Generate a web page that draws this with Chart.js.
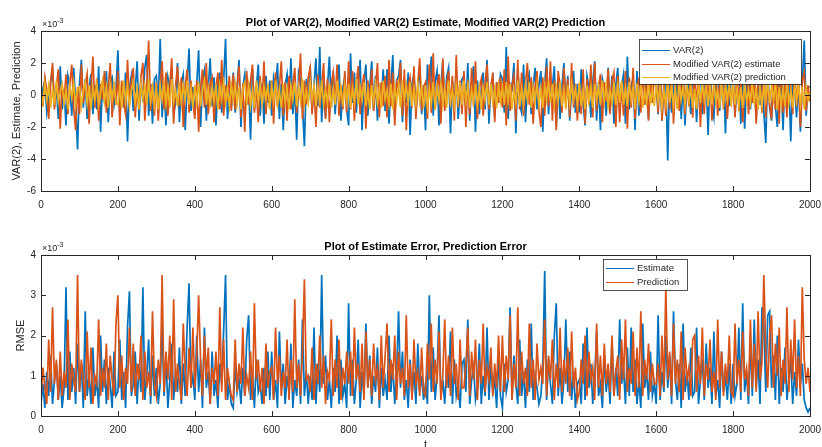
<!DOCTYPE html>
<html>
<head>
<meta charset="utf-8">
<script src="https://cdn.jsdelivr.net/npm/chart.js@4.4.0/dist/chart.umd.min.js"></script>
<style>
  html, body { margin: 0; padding: 0; background: #fff; overflow: hidden; }
  #wrap { position: relative; width: 822px; height: 447px; }
  canvas { position: absolute; left: 0; }
  #top { top: 0; }
  #bottom { top: 222px; }
</style>
</head>
<body>
<div id="wrap">
  <canvas id="top" width="822" height="222"></canvas>
  <canvas id="bottom" width="822" height="230"></canvas>
</div>
<script>
// sample index t, every 5th step of the 2000-step run
const t = Array.from({ length: 401 }, (_, i) => i * 5);

// values are in units of 1e-3 (axes carry the x10^-3 factor)
const varTrue = [
  -0.6, 0.4, 0.9, -1.1, -0.3, 0.8, 1.6, -0.7, 0.5, -1.5, 1.8, -0.9, 0.3, -1.9, 1.2, 0.6, -1.3, 1.7, -0.4, -3.4,
  0.7, 2.2, -0.8, 1.0, -1.5, 0.4, 1.3, -1.2, 0.6, -0.9, 1.8, -2.3, 0.9, -0.5, 1.5, -1.7, 0.8, 1.1, -0.6, 0.3,
  2.8, -1.1, 0.6, -0.8, 1.4, -2.9, 0.5, 1.2, -1.0, 0.3, 2.1, -1.6, 0.9, -0.4, 1.7, 2.5, -1.3, 0.7, -1.8, 1.0,
  1.2, -0.6, 3.5, -1.4, 0.6, -1.9, 1.1, 0.4, 1.7, -1.2, -0.5, 2.0, -1.7, 0.8, 1.3, -2.2, 0.6, 2.9, -1.0, 0.5,
  -1.2, 0.7, 2.8, -2.0, 0.8, 1.5, -1.6, 0.4, 2.3, -0.7, 1.1, -1.9, 0.6, 1.4, -1.1, 0.9, 3.5, -1.5, 0.3, -0.8,
  1.4, -1.1, 0.5, 2.2, -2.0, 0.5, 1.3, -0.6, 0.8, -2.8, 1.6, -0.9, 0.4, 1.9, -1.3, 0.7, -1.8, 1.2, -0.5, 0.9,
  -1.3, 1.1, 0.4, 2.0, -1.5, 0.7, -2.2, 0.6, 1.3, -0.8, 2.3, -1.2, 0.5, -2.8, 1.4, 0.9, -0.6, -3.2, 1.0, -0.4,
  1.8, -1.0, 0.6, 2.3, -0.7, 3.0, -1.7, 0.9, -1.4, 0.5, 2.4, -0.8, 1.5, -1.2, 0.7, 1.9, -1.6, 0.4, 1.1, -0.9,
  -1.9, 2.6, -0.5, 1.4, -1.1, 0.6, 2.2, -2.2, 0.8, 1.9, -1.3, 0.5, 2.1, -0.9, 1.2, -1.6, 0.7, -0.4, 1.6, -1.0,
  1.6, -1.8, 0.6, 2.5, -1.4, 0.9, 1.2, 2.2, -1.7, 0.8, -0.5, 1.4, -2.5, 0.7, 1.3, -1.0, 0.4, 1.8, -1.2, 0.6,
  -2.2, 1.9, 0.5, 2.4, -1.3, 0.8, 1.5, -1.9, 0.6, 2.1, -0.7, 1.1, 1.7, -2.4, 0.9, -0.6, 1.4, -1.5, 0.3, 1.0,
  1.2, -0.8, 2.0, -1.6, 0.7, 1.8, -2.3, 0.9, -1.2, 0.4, 1.4, -0.9, 2.2, -1.8, 0.6, 1.1, -1.4, 0.8, -0.5, 1.3,
  1.0, -1.1, 3.0, -1.5, 0.7, 0.4, 2.0, -2.4, 1.6, -0.6, -1.1, 1.9, -1.7, 0.8, 1.3, -1.2, 0.5, 1.7, -0.9, 0.6,
  1.5, -2.3, 0.7, 2.3, -1.2, 1.1, 0.5, 1.8, -2.0, 0.9, -1.5, 0.6, 2.0, -0.8, 1.2, -1.6, 0.4, 1.5, -1.1, 0.7,
  -1.1, 1.6, -0.5, -1.9, 1.2, 0.5, -1.4, 0.8, 2.1, -1.6, 0.8, -2.2, 1.0, 0.4, -1.3, 1.7, -0.7, 1.2, -1.8, 0.6,
  1.7, -1.0, 0.6, 1.3, -1.8, 2.4, -0.9, 0.5, 1.1, -2.2, 1.5, -1.3, 0.7, 1.9, -0.6, 1.2, -1.5, 0.8, -0.4, 1.4,
  0.9, -1.2, 2.2, -1.6, 0.6, 1.0, -4.1, 1.4, -1.1, 0.5, 1.7, -0.8, 2.3, -1.5, 0.7, -1.9, 1.1, 0.4, -1.2, 1.6,
  1.2, -1.7, 0.6, 1.9, -1.2, 0.8, 1.0, -2.5, 1.5, -0.6, -1.4, 0.8, 1.3, -1.0, 0.5, 1.8, -2.4, 0.9, -0.7, 1.1,
  1.6, -1.3, 0.5, 2.0, -1.8, 1.1, -2.1, 0.7, 1.4, -0.9, 0.6, 1.2, -1.5, 0.9, -0.6, 1.3, -1.1, -3.0, 1.7, -0.8,
  -1.6, 1.3, -0.7, -2.0, 1.0, 0.7, -2.2, 1.5, -0.5, 0.9, -2.9, 1.2, 0.6, -1.4, 1.0, -2.3, 0.8, 3.4, -1.3, 0.5,
  0.5
];

const varEstimate = [
  0.4, -0.7, 1.1, 0.3, -1.5, 0.8, 2.0, -0.9, 0.5, 1.6, -2.1, 0.6, -0.4, 1.3, -1.2, 0.7, 1.9, -0.8, -2.2, 0.5,
  -1.2, 1.9, -0.5, 0.6, 1.3, -1.8, 0.4, 2.4, -0.8, 1.0, -1.6, 0.7, -0.3, 1.5, -1.1, 0.5, 2.0, -1.4, 0.8, -0.6,
  1.5, -1.9, 0.9, -0.5, -1.2, 2.2, -0.6, 0.8, 1.7, -1.4, 0.5, -0.9, 1.2, 2.0, -1.6, 0.4, 3.4, -1.0, 0.7, -1.3,
  0.8, -1.6, 0.5, 2.1, -0.9, 1.4, -1.3, 0.6, 2.3, -1.8, 0.6, 1.8, -0.7, 1.1, -2.0, 0.5, 1.6, -1.1, 0.9, -0.5,
  -1.5, 0.9, -2.3, 0.4, 1.6, -0.8, 2.0, -1.2, 0.7, 1.1, -1.7, 0.5, 1.4, -0.9, 2.2, -1.3, 0.6, -0.4, 1.2, -1.0,
  1.3, -0.9, 0.5, 1.8, -1.4, 0.7, -2.3, 1.5, -0.6, 0.9, 1.9, -1.1, 0.4, -1.7, 1.2, -0.5, 2.1, -1.2, 0.6, -0.8,
  0.9, -1.8, 1.4, -0.7, 0.5, 2.1, -1.3, 0.8, -1.6, 1.2, -0.9, 0.6, 1.7, -1.1, 0.4, 2.6, -1.5, 0.9, -0.6, 1.1,
  1.7, -1.2, 0.6, -2.0, 1.3, -0.8, 0.5, 2.0, -1.5, 1.0, -1.7, 0.7, 1.4, -0.5, 1.9, -1.3, 0.6, -0.9, 1.5, -1.1,
  2.1, -0.9, 1.5, -1.6, 0.7, 1.8, -1.2, 0.5, 1.3, -2.1, 0.9, -0.6, 1.6, -1.0, 0.4, 2.0, -1.4, 0.8, -0.7, 1.2,
  -1.4, 2.2, -0.7, 1.4, -1.9, 0.8, 0.4, 2.0, -1.3, 1.6, -2.2, 0.6, 1.1, -0.8, 1.8, -1.5, 0.7, 2.3, -1.0, 0.5,
  0.8, -1.5, 1.9, -1.1, 2.6, -0.9, 0.5, 1.3, -1.8, 2.3, -1.0, 0.6, 1.5, -0.7, 1.2, -1.6, 2.5, -0.8, 0.9, -1.2,
  1.5, -2.0, 0.9, -1.2, 1.7, -0.7, 2.1, -1.5, 0.5, 1.0, -1.3, 0.7, 1.9, -0.9, 0.4, 1.4, -1.7, 0.8, -0.5, 1.1,
  -0.8, 1.6, -1.9, 2.4, -1.0, 0.6, 1.2, -1.6, 2.2, -0.9, 1.4, -1.3, 0.7, 2.0, -0.6, 1.1, -1.8, 0.5, 1.5, -1.0,
  -2.0, 1.1, -1.3, 1.8, -0.7, 2.1, -1.6, 0.9, -2.2, 1.5, 0.6, -1.1, 1.7, -0.5, 1.0, -1.4, 2.0, -0.8, 0.7, -1.6,
  0.7, -1.2, 1.6, -1.8, 1.0, -0.6, 1.9, -1.4, 2.0, -1.0, 0.5, 1.3, -1.7, 0.8, -0.4, 1.6, -1.2, 0.9, 1.4, -2.0,
  1.2, -1.7, 0.8, -1.3, 1.5, -2.1, 1.1, -0.8, 1.7, -1.5, 0.6, 1.0, -1.1, 1.8, -0.6, 0.9, -1.6, 1.3, -0.5, 1.2,
  0.9, -1.1, 2.0, -1.6, 0.7, -1.3, 1.5, -0.9, 1.2, -1.8, 0.6, 1.4, -1.0, 0.5, 1.9, -1.2, 0.8, -0.7, 1.6, -1.4,
  1.6, -0.8, 1.3, -2.0, 0.9, -1.2, 1.8, -0.7, 1.4, -1.6, 0.5, 1.1, -1.3, 0.7, 2.1, -0.9, 1.0, -1.5, 0.6, -0.4,
  0.8, -1.4, 1.9, -1.0, 1.3, -1.7, 0.6, 2.1, -1.2, 0.9, -0.5, 1.5, -1.8, 0.7, 1.2, -1.1, 2.0, -1.4, 0.8, -0.6,
  -1.5, 1.7, -0.9, 1.2, -1.8, 2.3, -1.1, 0.8, -1.4, 1.9, 0.5, -1.2, 1.6, -0.7, 1.1, -2.0, 0.9, 1.4, -1.0, 0.6,
  -0.4
];

const varPrediction = [
  0.1, -0.5, 0.7, -0.3, 0.6, -0.8, 0.4, -0.6, 0.9, -0.4, 0.2, 0.7, -0.5, 0.3, -0.9, 0.6, -0.2, 0.8, -0.6, 0.4,
  0.5, -0.7, 0.3, 0.8, -0.5, 0.6, -0.9, 0.4, -0.3, 0.7, -0.6, 0.2, 0.9, -0.4, 0.5, -0.8, 0.6, -0.3, 0.7, -0.5,
  -0.6, 0.5, -0.8, 0.9, -0.4, 0.6, -0.7, 0.3, 0.8, -0.5, 0.4, -0.9, 0.7, -0.2, 0.6, -0.6, 1.0, -0.4, 0.5, -0.7,
  0.4, -0.9, 0.6, -0.3, 0.7, -0.6, 0.5, -0.8, 1.0, -0.4, 0.3, -0.7, 0.8, -0.5, 0.6, -0.3, 0.9, -0.6, 0.4, -0.8,
  0.6, -0.5, 0.8, -0.7, 0.3, 0.9, -0.6, 0.4, -0.8, 0.5, -0.4, 0.7, -0.9, 0.6, -0.3, 0.8, -0.5, 0.4, -0.7, 0.6,
  -0.3, 0.7, -0.6, 0.5, -0.9, 0.4, 0.8, -0.5, 0.6, -0.7, 0.3, -0.8, 0.9, -0.4, 0.6, -0.6, 0.5, -0.3, 0.7, -0.9,
  0.5, -0.4, 0.9, -0.6, 0.3, -0.8, 0.7, -0.5, 0.4, -0.9, 0.6, -0.3, 0.8, -0.7, 0.5, -0.4, 1.0, -0.6, 0.3, -0.5,
  0.8, -0.3, 0.6, -0.7, 0.5, -0.4, 0.9, -0.6, 0.3, -0.5, 0.7, -0.8, 0.4, -0.6, 0.9, -0.3, 0.5, -0.7, 0.6, -0.4,
  0.7, -0.8, 0.4, -0.5, 1.0, -0.6, 0.5, -0.3, 0.8, -0.7, 0.3, -0.9, 0.6, -0.4, 0.7, -0.5, 0.4, -0.8, 0.9, -0.3,
  0.3, -0.6, 0.7, -0.9, 0.5, -0.4, 0.6, -0.8, 0.9, -0.3, 0.6, -0.5, 0.8, -0.7, 0.4, -0.6, 0.7, -0.4, 0.5, -0.8,
  0.6, -0.7, 0.4, -0.5, 0.8, -0.9, 0.5, -0.3, 0.7, -0.6, 0.4, -0.8, 0.9, -0.5, 0.3, -0.7, 0.6, -0.4, 0.8, -0.6,
  0.9, -0.4, 0.6, -0.8, 0.3, -0.5, 0.7, -0.6, 0.4, -0.9, 0.5, -0.3, 0.8, -0.6, 0.7, -0.5, 0.4, -0.8, 0.6, -0.4,
  0.5, -0.6, 0.8, -0.4, 0.7, -0.9, 0.3, -0.5, 0.9, -0.7, 0.4, -0.6, 0.6, -0.3, 0.8, -0.8, 0.5, -0.4, 0.7, -0.6,
  0.4, -0.8, 0.6, -0.3, 0.9, -0.5, 0.7, -0.6, 0.5, -0.4, 0.8, -0.7, 0.3, -0.9, 0.6, -0.5, 0.7, -0.3, 0.4, -0.6,
  0.8, -0.7, 0.3, -0.9, 0.6, -0.4, 0.5, -0.8, 0.7, -0.3, 0.5, -0.6, 0.9, -0.4, 0.6, -0.7, 0.3, -0.5, 0.8, -0.6,
  0.6, -0.5, 0.9, -0.6, 0.4, -0.7, 0.8, -0.3, 0.5, -0.9, 0.7, -0.4, 0.6, -0.8, 0.3, -0.5, 0.9, -0.6, 0.4, -0.7,
  0.7, -0.4, 0.5, -0.8, 0.3, -0.6, 0.9, -0.5, 0.6, -0.7, 0.4, -0.9, 0.8, -0.3, 0.5, -0.6, 0.7, -0.4, 0.6, -0.8,
  0.4, -0.9, 0.7, -0.5, 0.8, -0.3, 0.6, -0.7, 0.5, -0.6, 0.9, -0.4, 0.3, -0.8, 0.7, -0.5, 0.6, -0.3, 0.8, -0.7,
  0.9, -0.6, 0.4, -0.7, 0.5, -0.8, 0.7, -0.4, 0.3, -0.5, 0.8, -0.6, 0.5, -0.9, 0.4, -0.7, 0.6, -0.3, 0.9, -0.5,
  0.6, -0.3, 0.8, -0.9, 0.5, -0.6, 0.4, -0.7, 0.9, -0.5, 0.3, -0.8, 0.6, -0.4, 0.7, -0.6, 0.5, -0.9, 0.4, -0.3,
  0.2
];

const estimateError = [
  0.3, 0.8, 0.2, 1.1, 0.5, 1.5, 0.3, 0.9, 1.3, 0.4, 1.0, 0.2, 0.7, 3.2, 0.4, 1.6, 0.6, 1.2, 0.3, 1.8,
  0.6, 1.3, 0.2, 2.6, 0.5, 1.0, 0.3, 1.7, 0.5, 0.9, 0.2, 2.0, 0.6, 1.4, 0.3, 1.2, 0.8, 0.2, 1.6, 0.5,
  0.6, 1.9, 0.4, 1.1, 0.2, 2.2, 3.1, 0.5, 0.8, 1.6, 0.3, 1.3, 0.6, 3.2, 0.4, 1.0, 1.9, 0.3, 1.5, 0.5,
  1.2, 0.3, 0.8, 2.3, 0.5, 1.5, 0.2, 0.9, 1.8, 0.4, 1.1, 0.6, 1.7, 0.3, 1.3, 0.5, 2.2, 3.3, 0.7, 1.0,
  0.4, 2.0, 0.6, 1.4, 0.2, 2.2, 0.7, 1.1, 0.3, 1.6, 0.5, 0.9, 0.2, 1.3, 0.8, 2.1, 3.5, 0.4, 0.8, 0.3,
  0.2, 1.3, 0.6, 0.9, 0.3, 1.2, 0.5, 1.9, 2.5, 0.4, 1.0, 0.2, 1.4, 0.6, 0.8, 0.3, 1.2, 0.5, 1.6, 0.4,
  1.6, 0.4, 0.9, 0.2, 2.1, 0.7, 1.3, 0.3, 1.0, 0.6, 1.8, 0.2, 0.9, 0.5, 1.4, 0.3, 2.4, 0.5, 1.1, 0.3,
  1.0, 0.4, 2.2, 0.3, 1.3, 0.6, 3.5, 0.8, 1.5, 0.4, 0.9, 0.2, 1.2, 0.6, 2.0, 0.3, 1.4, 0.5, 0.8, 0.2,
  2.8, 0.5, 1.4, 0.3, 0.9, 1.9, 0.2, 1.1, 0.5, 2.3, 0.7, 1.5, 0.3, 1.0, 0.6, 1.7, 0.2, 1.2, 0.5, 0.9,
  0.4, 2.0, 0.6, 1.3, 0.3, 1.1, 2.6, 0.7, 1.6, 0.4, 0.9, 0.2, 1.4, 0.5, 1.1, 0.3, 1.8, 0.6, 1.0, 0.4,
  0.8, 0.3, 3.0, 0.6, 1.7, 0.4, 1.0, 2.5, 0.5, 0.9, 0.3, 1.2, 0.7, 2.1, 0.3, 1.4, 0.5, 0.8, 0.2, 1.3,
  1.4, 0.6, 2.4, 0.3, 0.9, 1.2, 0.4, 0.7, 1.8, 0.3, 1.0, 0.5, 2.2, 0.4, 1.3, 0.6, 0.9, 0.2, 1.5, 0.5,
  0.2, 1.3, 0.6, 0.9, 2.7, 0.4, 1.5, 0.8, 0.3, 1.9, 0.5, 1.1, 0.2, 1.4, 0.6, 2.3, 0.4, 1.0, 0.7, 0.3,
  0.5, 1.2, 3.6, 0.4, 1.4, 0.8, 0.3, 2.0, 2.8, 0.5, 1.2, 0.3, 0.9, 2.4, 0.6, 1.6, 0.4, 1.1, 0.2, 0.8,
  0.9, 0.3, 1.8, 0.4, 2.2, 0.7, 1.3, 0.3, 0.9, 2.1, 0.5, 0.8, 0.2, 1.5, 0.6, 1.1, 0.3, 1.9, 0.5, 1.2,
  0.5, 2.4, 0.8, 1.2, 0.3, 1.7, 0.5, 2.2, 0.6, 1.4, 0.3, 0.9, 0.2, 2.3, 0.7, 1.1, 0.4, 1.6, 0.5, 0.8,
  0.3, 2.5, 0.4, 1.1, 0.6, 2.0, 0.7, 1.5, 0.3, 2.6, 0.9, 0.4, 1.3, 0.2, 2.3, 0.6, 1.1, 0.4, 1.7, 0.5,
  0.6, 2.2, 0.3, 0.9, 1.4, 0.4, 1.8, 0.7, 1.2, 0.3, 2.1, 0.5, 0.9, 0.2, 1.6, 0.6, 1.0, 0.4, 1.3, 0.3,
  1.3, 0.5, 0.8, 2.2, 0.4, 2.8, 0.6, 1.1, 0.3, 1.9, 0.5, 2.4, 0.7, 1.4, 0.3, 2.7, 2.2, 0.6, 2.5, 2.6,
  0.7, 1.5, 0.4, 2.0, 0.3, 1.2, 0.6, 1.7, 0.4, 0.9, 1.4, 0.3, 1.1, 0.5, 1.9, 0.8, 1.3, 0.4, 0.2, 0.1,
  0.2
];

const predictionError = [
  0.5, 1.2, 0.7, 0.3, 1.9, 0.6, 2.7, 0.8, 1.4, 0.4, 1.6, 0.5, 1.1, 0.7, 2.4, 0.4, 1.3, 0.9, 0.6, 3.5,
  0.6, 1.4, 0.9, 0.4, 2.1, 0.7, 1.7, 0.3, 1.0, 0.8, 2.4, 0.5, 1.2, 0.7, 1.8, 0.4, 1.5, 0.9, 0.5, 2.3,
  3.0, 0.7, 1.5, 0.4, 1.2, 0.8, 2.2, 0.6, 1.8, 0.5, 1.3, 0.9, 2.0, 0.4, 1.6, 0.7, 1.1, 0.5, 2.6, 0.8,
  0.5, 1.4, 0.8, 3.5, 0.6, 1.6, 0.9, 2.0, 0.4, 2.9, 0.6, 1.3, 0.8, 0.4, 2.3, 1.1, 0.5, 1.7, 0.7, 2.2,
  0.7, 1.5, 3.0, 1.4, 0.5, 2.0, 0.9, 1.7, 0.3, 1.2, 0.8, 1.6, 0.5, 2.7, 0.6, 1.9, 0.4, 1.2, 0.8, 0.5,
  0.4, 1.9, 0.6, 1.3, 0.8, 2.2, 0.5, 1.0, 0.7, 1.6, 0.4, 2.8, 0.9, 1.4, 0.6, 1.2, 0.3, 1.8, 0.7, 1.1,
  1.2, 0.4, 2.2, 0.8, 1.5, 0.5, 1.1, 0.7, 1.9, 0.4, 1.4, 0.6, 2.9, 0.7, 1.3, 0.5, 1.6, 3.4, 0.9, 1.0,
  0.6, 1.7, 0.4, 1.3, 0.8, 2.0, 0.7, 1.5, 0.3, 1.1, 0.9, 2.4, 0.5, 1.4, 0.7, 1.9, 0.4, 1.2, 0.8, 1.6,
  0.8, 1.6, 0.5, 2.2, 0.9, 1.3, 0.6, 1.8, 0.4, 2.1, 0.7, 1.4, 0.5, 1.8, 0.9, 1.2, 0.4, 2.0, 0.7, 1.5,
  2.3, 0.6, 1.4, 0.9, 2.0, 0.4, 1.6, 0.8, 1.2, 0.5, 2.5, 0.7, 1.3, 0.4, 1.9, 0.8, 1.1, 0.5, 1.7, 0.6,
  0.5, 1.8, 0.9, 2.3, 0.6, 1.4, 0.8, 2.1, 0.4, 1.0, 2.4, 0.7, 1.5, 0.5, 2.2, 0.8, 1.3, 0.4, 1.9, 0.7,
  0.7, 1.3, 2.2, 0.5, 1.6, 0.9, 1.9, 0.4, 1.4, 0.8, 2.3, 0.6, 1.2, 0.9, 1.7, 0.5, 1.3, 0.7, 2.0, 0.6,
  2.0, 0.6, 1.5, 0.9, 2.5, 0.4, 1.3, 0.7, 2.7, 0.5, 1.6, 0.8, 1.2, 0.5, 2.3, 0.7, 1.4, 0.4, 1.8, 0.9,
  1.2, 0.8, 2.4, 0.5, 1.5, 0.9, 1.9, 0.4, 1.3, 0.7, 2.2, 0.6, 1.4, 0.8, 1.7, 0.5, 2.1, 0.7, 1.2, 0.4,
  0.6, 1.4, 0.8, 2.0, 0.5, 1.6, 0.9, 1.2, 0.4, 2.3, 0.7, 1.5, 0.5, 1.8, 0.8, 1.3, 0.6, 2.0, 0.5, 1.1,
  1.5, 0.4, 1.9, 0.9, 2.4, 0.6, 1.2, 0.8, 2.1, 0.5, 1.7, 0.7, 2.6, 0.5, 1.4, 0.9, 1.8, 0.6, 1.3, 0.8,
  0.8, 1.3, 0.5, 2.0, 0.7, 3.2, 0.9, 1.6, 0.5, 2.3, 0.8, 1.4, 0.6, 2.1, 0.4, 1.7, 0.9, 1.2, 0.5, 1.9,
  2.0, 0.6, 1.5, 0.8, 2.2, 0.5, 1.3, 0.9, 1.9, 0.6, 1.1, 0.4, 2.4, 0.7, 1.6, 0.5, 1.3, 0.8, 2.0, 0.6,
  0.5, 2.3, 0.8, 1.4, 0.6, 2.1, 0.9, 1.2, 0.5, 2.4, 0.7, 1.8, 0.6, 2.6, 0.9, 1.3, 3.5, 1.6, 0.7, 2.0,
  2.5, 0.7, 1.8, 1.0, 2.2, 0.5, 1.4, 0.8, 2.7, 0.6, 1.9, 0.9, 2.4, 0.7, 1.5, 0.5, 3.2, 1.4, 0.8, 1.2,
  0.6
];

const FONT = '"Liberation Sans", Arial, sans-serif';
const INK = '#262626';
const BLUE = '#0072BD';
const ORANGE = '#D95319';
const YELLOW = '#EDB120';

// MATLAB look: box, inward ticks, bold title, exponent, legend inside axes
const matlabAxes = {
    id: 'matlabAxes',
    afterDatasetsDraw(chart, args, opts) {
        const { ctx, chartArea: a, scales } = chart;
        const tl = 5;
        ctx.save();
        ctx.strokeStyle = INK;
        ctx.lineWidth = 1;
        ctx.beginPath();
        scales.x.ticks.forEach(tk => {
            const px = Math.round(scales.x.getPixelForValue(tk.value)) + 0.5;
            ctx.moveTo(px, a.bottom); ctx.lineTo(px, a.bottom - tl);
            ctx.moveTo(px, a.top); ctx.lineTo(px, a.top + tl);
        });
        scales.y.ticks.forEach(tk => {
            const py = Math.round(scales.y.getPixelForValue(tk.value)) + 0.5;
            ctx.moveTo(a.left, py); ctx.lineTo(a.left + tl, py);
            ctx.moveTo(a.right, py); ctx.lineTo(a.right - tl, py);
        });
        ctx.stroke();
        ctx.strokeRect(Math.round(a.left) + 0.5, Math.round(a.top) + 0.5,
            Math.round(a.width), Math.round(a.height));

        // title
        ctx.fillStyle = '#000';
        ctx.font = `bold 11px ${FONT}`;
        ctx.textAlign = 'center';
        ctx.textBaseline = 'alphabetic';
        ctx.fillText(opts.title, (a.left + a.right) / 2, a.top - 5);

        // x10^-3 factor
        ctx.fillStyle = INK;
        ctx.textAlign = 'left';
        ctx.font = `9px ${FONT}`;
        ctx.fillText('\u00d710', a.left + 1, a.top - 4);
        const w = ctx.measureText('\u00d710').width;
        ctx.font = `7px ${FONT}`;
        ctx.fillText('-3', a.left + 1 + w, a.top - 8);

        // legend
        const L = opts.legend;
        ctx.fillStyle = '#fff';
        ctx.fillRect(L.x, L.y, L.w, L.h);
        ctx.strokeStyle = INK;
        ctx.lineWidth = 0.8;
        ctx.strokeRect(L.x + 0.5, L.y + 0.5, L.w, L.h);
        ctx.font = `9.5px ${FONT}`;
        ctx.textBaseline = 'middle';
        chart.data.datasets.forEach((ds, i) => {
            const yy = Math.round(L.y + L.rowTop + i * L.rowGap) + 0.5;
            ctx.strokeStyle = ds.borderColor;
            ctx.lineWidth = 1;
            ctx.beginPath();
            ctx.moveTo(L.x + 3, yy);
            ctx.lineTo(L.x + 31, yy);
            ctx.stroke();
            ctx.fillStyle = INK;
            ctx.fillText(ds.label, L.x + 34, yy);
        });
        ctx.restore();
    }
};

function makeChart(id, cfg) {
    return new Chart(document.getElementById(id), {
        type: 'line',
        data: { labels: t, datasets: cfg.datasets },
        options: {
            responsive: false,
            animation: false,
            devicePixelRatio: 1,
            layout: { autoPadding: false, padding: { left: 0, right: 12, top: cfg.top, bottom: 0 } },
            elements: {
                point: { radius: 0 },
                line: { borderWidth: 1.7, tension: 0 }
            },
            plugins: {
                legend: { display: false },
                tooltip: { enabled: false },
                matlabAxes: { title: cfg.title, legend: cfg.legend }
            },
            scales: {
                x: {
                    type: 'linear',
                    min: 0,
                    max: 2000,
                    afterFit: s => {
                        s.height = cfg.xHeight;
                        s.paddingLeft = 0;
                        s.paddingRight = 0;
                    },
                    grid: { display: false, drawTicks: false },
                    border: { display: false },
                    ticks: {
                        stepSize: 200,
                        autoSkip: false,
                        maxRotation: 0,
                        padding: 8,
                        color: INK,
                        font: { family: FONT, size: 10 },
                        callback: v => `${v}`
                    },
                    title: {
                        display: !!cfg.xTitle,
                        text: cfg.xTitle || '',
                        color: INK,
                        padding: { top: 0, bottom: 0 },
                        font: { family: FONT, size: 11 }
                    }
                },
                y: {
                    min: cfg.yMin,
                    max: cfg.yMax,
                    afterFit: s => {
                        s.width = 41;
                        s.paddingTop = 0;
                        s.paddingBottom = 0;
                    },
                    grid: { display: false, drawTicks: false },
                    border: { display: false },
                    ticks: {
                        stepSize: cfg.yStep,
                        padding: 5,
                        color: INK,
                        font: { family: FONT, size: 10 },
                        callback: v => `${v}`
                    },
                    title: {
                        display: true,
                        text: cfg.yTitle,
                        color: INK,
                        padding: { top: cfg.yTitlePad, bottom: 0 },
                        font: { family: FONT, size: 11 }
                    }
                }
            }
        },
        plugins: [matlabAxes]
    });
}

makeChart('top', {
    title: 'Plot of VAR(2), Modified VAR(2) Estimate, Modified VAR(2) Prediction',
    top: 31,
    xHeight: 31,
    yMin: -6, yMax: 4, yStep: 2,
    yTitle: 'VAR(2), Estimate, Prediction',
    yTitlePad: 10,
    legend: { x: 639, y: 39, w: 162, h: 45, rowTop: 11, rowGap: 13.5 },
    datasets: [
        { label: 'VAR(2)', data: varTrue, borderColor: BLUE, order: 3 },
        { label: 'Modified VAR(2) estimate', data: varEstimate, borderColor: ORANGE, order: 2 },
        { label: 'Modified VAR(2) prediction', data: varPrediction, borderColor: YELLOW, order: 1 }
    ]
});

makeChart('bottom', {
    title: 'Plot of Estimate Error, Prediction Error',
    top: 33,
    xHeight: 36,
    xTitle: 't',
    yMin: 0, yMax: 4, yStep: 1,
    yTitle: 'RMSE',
    yTitlePad: 14,
    legend: { x: 603, y: 37, w: 84, h: 31, rowTop: 9, rowGap: 14 },
    datasets: [
        { label: 'Estimate', data: estimateError, borderColor: BLUE, order: 2 },
        { label: 'Prediction', data: predictionError, borderColor: ORANGE, order: 1 }
    ]
});
</script>
</body>
</html>
